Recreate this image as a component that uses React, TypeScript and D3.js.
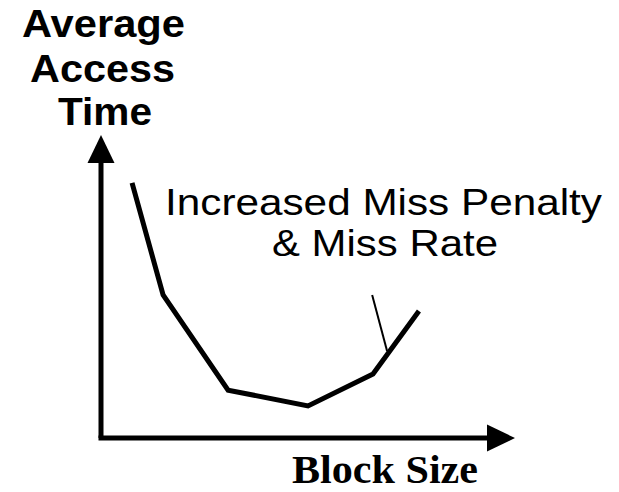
import React from "react";
import * as d3 from "d3";

const W = 619;
const H = 492;

// Curve: block size (abstract units) vs average access time (abstract units)
const blockSize = [7.5, 15.0, 30.7, 50.0, 65.7, 76.8];
const accessTime = [84.2, 47.2, 15.8, 10.6, 21.1, 41.9];

// Pointer line from the annotation to the curve
const pointerX = [65.5, 69.1];
const pointerY = [47.2, 28.7];

const yTitleLines = ["Average", "Access", "Time"];
const annotationLines = ["Increased Miss Penalty", "& Miss Rate"];
const xTitle = "Block Size";

export default function App() {
  const x = d3.scaleLinear().domain([0, 100]).range([101, 515]);
  const y = d3.scaleLinear().domain([0, 100]).range([438, 135]);

  const line = d3
    .line<number>()
    .x((_, i) => x(blockSize[i]))
    .y((d) => y(d));

  const ptr = d3
    .line<number>()
    .x((_, i) => x(pointerX[i]))
    .y((d) => y(d));

  const x0 = x(0);
  const y0 = y(0);
  const xEnd = x(100);
  const yEnd = y(100);
  const head = 28;
  const half = 13.5;

  const sans = "'Liberation Sans', Arial, Helvetica, sans-serif";
  const serif = "'Liberation Serif', 'Times New Roman', serif";

  const yTitleLayout = [
    { cx: 103.5, base: 37, len: 163 },
    { cx: 102.5, base: 82, len: 145 },
    { cx: 105, base: 125, len: 94 },
  ];
  const annLayout = [
    { x: 165, base: 215, len: 437 },
    { x: 272, base: 256, len: 226 },
  ];

  return (
    <svg
      width={W}
      height={H}
      style={{ position: "absolute", left: 0, top: 0, background: "#fff" }}
    >
      <rect width={W} height={H} fill="#fff" />
      {/* axes */}
      <line x1={x0} y1={y0} x2={x0} y2={yEnd + head - 1} stroke="#000" strokeWidth={5} />
      <line x1={x0 - 2.5} y1={y0} x2={xEnd - head + 1} y2={y0} stroke="#000" strokeWidth={5} />
      <path
        d={`M${x0},${yEnd} L${x0 - half},${yEnd + head} L${x0 + half},${yEnd + head} Z`}
        fill="#000"
      />
      <path
        d={`M${xEnd},${y0} L${xEnd - head},${y0 - half} L${xEnd - head},${y0 + half} Z`}
        fill="#000"
      />
      {/* curve */}
      <path
        d={line(accessTime) || ""}
        fill="none"
        stroke="#000"
        strokeWidth={5}
        strokeLinejoin="miter"
      />
      {/* pointer */}
      <path d={ptr(pointerY) || ""} fill="none" stroke="#000" strokeWidth={2} />
      {/* y title */}
      {yTitleLines.map((t, i) => (
        <text
          key={t}
          x={yTitleLayout[i].cx - yTitleLayout[i].len / 2}
          y={yTitleLayout[i].base}
          fontFamily={sans}
          fontWeight="bold"
          fontSize={38}
          textLength={yTitleLayout[i].len}
          lengthAdjust="spacingAndGlyphs"
        >
          {t}
        </text>
      ))}
      {/* annotation */}
      {annotationLines.map((t, i) => (
        <text
          key={t}
          x={annLayout[i].x}
          y={annLayout[i].base}
          fontFamily={sans}
          fontSize={37}
          textLength={annLayout[i].len}
          lengthAdjust="spacingAndGlyphs"
        >
          {t}
        </text>
      ))}
      {/* x title */}
      <text
        x={292}
        y={483}
        fontFamily={serif}
        fontWeight="bold"
        fontSize={40}
        textLength={186}
        lengthAdjust="spacingAndGlyphs"
      >
        {xTitle}
      </text>
    </svg>
  );
}
